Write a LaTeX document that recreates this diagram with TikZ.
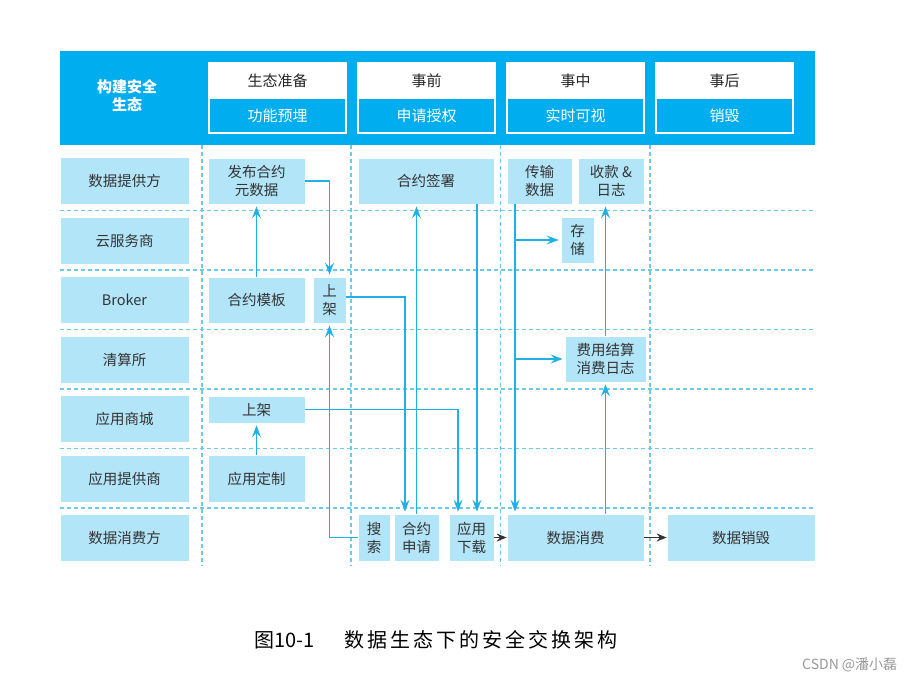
\documentclass[tikz,border=0pt]{standalone}
\usepackage{fontspec}
\setmainfont{Noto Sans CJK SC}
\usepackage{tikz}
\usetikzlibrary{arrows.meta}

\definecolor{hdrblue}{HTML}{00AEEF}
\definecolor{boxblue}{HTML}{B3E5F9}
\definecolor{linecyan}{HTML}{1EB0E6}
\definecolor{dashcyan}{HTML}{6CCBEA}
\definecolor{txtgray}{HTML}{333333}

\tikzset{
    role/.style={fill=boxblue, draw=white, line width=0.8pt, inner sep=0pt,
        minimum width=129pt, minimum height=47pt, text=txtgray, align=center,
        font=\fontsize{14.5}{18}\selectfont},
    cell/.style={role, minimum width=97pt, minimum height=46pt},
    phasetop/.style={fill=white, draw=white, line width=1.2pt, inner sep=0pt,
        minimum width=137pt, minimum height=35pt, text=black!85,
        font=\fontsize{15}{18}\selectfont},
    phasebot/.style={phasetop, fill=hdrblue, text=white},
    gridline/.style={draw=dashcyan, line width=1.3pt, dash pattern=on 4pt off 3pt},
    flow/.style={draw=linecyan, line width=1.4pt, shorten >=2pt,
        -{Stealth[length=12pt,width=9pt,inset=4.5pt]}},
    nextarrow/.style={draw=black!80, line width=1.1pt,
        -{Stealth[length=10pt,width=8pt,inset=3.5pt]}}
}

\begin{document}
\begin{tikzpicture}[x=1pt,y=-1pt]
    \useasboundingbox (0,0) rectangle (918,680);
    \fill[white] (0,0) rectangle (918,680);

    \node[fill=hdrblue, inner sep=0pt, minimum width=755pt, minimum height=94pt,
        anchor=north west] (bar) at (60,51) {};
    \node[text=white, align=center, font=\bfseries\fontsize{15}{18}\selectfont]
        (title) at (127,95.5) {构建安全\\生态};
    \node[phasetop] (p1) at (277.5,80.5) {生态准备};
    \node[phasebot] (q1) at (277.5,115.5) {功能预埋};
    \node[phasetop] (p2) at (426.5,80.5) {事前};
    \node[phasebot] (q2) at (426.5,115.5) {申请授权};
    \node[phasetop] (p3) at (575.5,80.5) {事中};
    \node[phasebot] (q3) at (575.5,115.5) {实时可视};
    \node[phasetop] (p4) at (724.5,80.5) {事后};
    \node[phasebot] (q4) at (724.5,115.5) {销毁};

    \draw[gridline] (202,145) -- (202,566);
    \draw[gridline] (351,145) -- (351,566);
    \draw[gridline] (500.5,145) -- (500.5,566);
    \draw[gridline] (650,145) -- (650,566);
    \draw[gridline] (60,210.5) -- (815,210.5);
    \draw[gridline] (60,270) -- (815,270);
    \draw[gridline] (60,329.5) -- (815,329.5);
    \draw[gridline] (60,389) -- (815,389);
    \draw[gridline] (60,448.5) -- (815,448.5);
    \draw[gridline] (60,508) -- (815,508);

    \node[role] (r1) at (124.5,181) {数据提供方};
    \node[role] (r2) at (124.5,240.5) {云服务商};
    \node[role] (r3) at (124.5,300) {Broker};
    \node[role] (r4) at (124.5,359.5) {清算所};
    \node[role] (r5) at (124.5,419) {应用商城};
    \node[role] (r6) at (124.5,478.5) {应用提供商};
    \node[role] (r7) at (124.5,538) {数据消费方};

    \node[cell] (fabu) at (256.5,181) {发布合约\\元数据};
    \node[cell] (moban) at (256.5,300) {合约模板};
    \node[cell, minimum width=33pt] (sj1) at (329.5,300) {上\\架};
    \node[cell, minimum height=27pt] (sj2) at (256.5,409.5) {上架};
    \node[cell, minimum height=47pt] (dingzhi) at (256.5,478.5) {应用定制};
    \node[cell, minimum width=136pt] (qianshu) at (426,181) {合约签署};
    \node[cell, minimum width=32pt, minimum height=47pt] (sousuo) at (374,537.5) {搜\\索};
    \node[cell, minimum width=45pt, minimum height=47pt] (shenqing) at (416.5,537.5) {合约\\申请};
    \node[cell, minimum width=45pt, minimum height=47pt] (xiazai) at (471.5,537.5) {应用\\下载};
    \node[cell, minimum width=65pt] (chuanshu) at (539.5,181) {传输\\数据};
    \node[cell, minimum width=66pt] (shoukuan) at (611,181) {收款 \&\\日志};
    \node[cell, minimum width=33pt] (cunchu) at (577.5,240) {存\\储};
    \node[cell, minimum width=81pt] (jiesuan) at (605.5,359) {费用结算\\消费日志};
    \node[cell, minimum width=137pt, minimum height=47pt] (xiaofei) at (575.5,537.5) {数据消费};
    \node[cell, minimum width=148pt, minimum height=47pt] (xiaohui) at (741,537.5) {数据销毁};

    \coordinate (c1) at ([xshift=-24.5pt]chuanshu.south);
    \coordinate (c2) at ([xshift=-11.5pt]shenqing.north);
    \coordinate (c3) at ([xshift=5.5pt]xiazai.north);
    \coordinate (c4) at ([xshift=-13.5pt]xiazai.north);

    \draw[flow] (moban) -- (fabu);
    \draw[flow] (fabu.east) -| (sj1.north);
    \draw[flow] ([yshift=3pt]sj1.east) -| (c2);
    \draw[flow] (shenqing.north) -- (shenqing.north |- qianshu.south);
    \draw[flow] (c3 |- qianshu.south) -- (c3);
    \draw[flow] (sj2.east) -| (c4);
    \draw[flow] (dingzhi) -- (sj2);
    \draw[flow] (sousuo.west) -| (sj1.south);
    \draw[flow] (c1) -- (c1 |- xiaofei.north);
    \draw[flow] (c1 |- cunchu.west) -- (cunchu.west);
    \draw[flow] (c1 |- jiesuan.west) -- (jiesuan.west);
    \draw[flow] (xiaofei.north -| jiesuan.south) -- (jiesuan.south);
    \draw[flow] (jiesuan.north) -- (jiesuan.north |- shoukuan.south);
    \draw[nextarrow] (xiazai) -- (xiaofei);
    \draw[nextarrow] (xiaofei) -- (xiaohui);

    \node[anchor=west, inner sep=0pt, font=\fontsize{20}{24}\selectfont] (cap) at (254,640)
        {图10-1\hspace{30pt}{\addfontfeature{LetterSpace=15}数据生态下的安全交换架构}};
    \node[anchor=west, inner sep=0pt, text=black!40, font=\fontsize{14}{17}\selectfont]
        (mark) at (802,665) {CSDN @潘小磊};
\end{tikzpicture}
\end{document}
